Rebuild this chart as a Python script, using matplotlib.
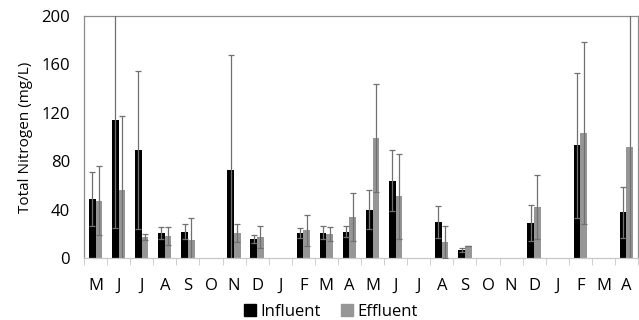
import matplotlib
matplotlib.use("Agg")
import matplotlib.pyplot as plt
import numpy as np
from matplotlib.patches import Patch

months = ["M","J","J","A","S","O","N","D","J","F","M","A",
          "M","J","J","A","S","O","N","D","J","F","M","A"]
influent = [49, 114, 89, 21, 22, np.nan, 73, 16, np.nan, 21, 21, 22,
            40, 64, np.nan, 30, 7, np.nan, np.nan, 29, np.nan, 93, np.nan, 38]
influent_err = [22, 89, 65, 5, 6, np.nan, 95, 3, np.nan, 4, 5.5, 4.5,
                16, 25, np.nan, 13, 1.4, np.nan, np.nan, 15, np.nan, 60, np.nan, 21]
effluent = [47.5, 56, 17.6, 18.7, 15, np.nan, 21, 17.6, np.nan, 23, 20, 34,
            99, 51, np.nan, 13.5, 10, np.nan, np.nan, 42, np.nan, 103, np.nan, 92]
effluent_err = [28.5, 61, 2.2, 7.5, 18, np.nan, 7.5, 9, np.nan, 13, 6, 20,
                44.5, 35, np.nan, 13.5, 0, np.nan, np.nan, 26.5, np.nan, 75, np.nan, 115]

plt.rcParams['font.family'] = ['Open Sans', 'DejaVu Sans']

fig = plt.figure(figsize=(6.39, 3.2), dpi=100)
ax = fig.add_axes([84/639, 1-258.3/320, 554/639, (258.3-15.7)/320])

x = np.arange(len(months))
w = 0.29
ecol = '#707070'
spc = '#8c8c8c'
ax.bar(x - w/2, influent, w, color='black', zorder=2)
ax.bar(x + w/2, effluent, w, color='#969696', zorder=2)
ax.errorbar(x - w/2, influent, yerr=influent_err, fmt='none', ecolor=ecol,
            elinewidth=0.9, capsize=2.5, capthick=0.9, zorder=3)
ax.errorbar(x + w/2, effluent, yerr=effluent_err, fmt='none', ecolor=ecol,
            elinewidth=0.9, capsize=2.5, capthick=0.9, zorder=3)

ax.set_xlim(-0.5, len(months) - 0.5)
ax.set_ylim(0, 200)
ax.set_yticks([0, 40, 80, 120, 160, 200])
ax.set_xticks(x)
ax.set_xticklabels(months)
ax.set_xticks(np.arange(-0.5, len(months)), minor=True)
ax.tick_params(axis='x', which='major', length=0, pad=14, labelsize=12)
ax.tick_params(axis='x', which='minor', length=5, color='#c8c8c8', direction='out')
ax.tick_params(axis='y', length=0, labelsize=12, pad=10)
for s in ax.spines.values():
    s.set_color(spc)
    s.set_linewidth(0.9)
ax.spines['bottom'].set_color('#c8c8c8')
ax.set_ylabel('Total Nitrogen (mg/L)', fontsize=11, labelpad=6)

handles = [Patch(color='black', label='Influent'), Patch(color='#969696', label='Effluent')]
fig.legend(handles=handles, loc='center', bbox_to_anchor=(0.518, 0.025), ncol=2,
           frameon=False, fontsize=12, handlelength=0.7, handleheight=0.7,
           handletextpad=0.3, columnspacing=1.2)

fig.savefig('out.png', dpi=100)
